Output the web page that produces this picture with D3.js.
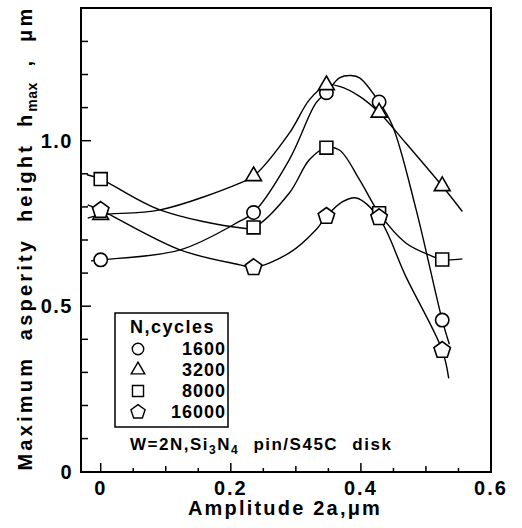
<!DOCTYPE html>
<html>
<head>
<meta charset="utf-8">
<script src="https://cdn.jsdelivr.net/npm/d3@7"></script>
<style>
  body { margin: 0; background: #fff; }
  text { font-family: "Liberation Sans", Arial, sans-serif; font-weight: bold; fill: #000; }
</style>
</head>
<body>
<div id="chart"></div>
<script>
// marker positions (amplitude 2a, um)
const amplitude = [0, 0.235, 0.347, 0.428, 0.525];
const cycles = ["1600", "3200", "8000", "16000"];
const symbols = ["circle", "triangle", "square", "pentagon"];

// hmax at each amplitude, per cycle count
const h1600 = [0.64, 0.783, 1.145, 1.117, 0.458];
const h3200 = [0.776, 0.893, 1.168, 1.085, 0.863];
const h8000 = [0.884, 0.738, 0.979, 0.781, 0.641];
const h16000 = [0.79, 0.617, 0.772, 0.768, 0.367];

// fitted curves as [x, y]
const fit1600 = [[-0.015, 0.637], [0, 0.64], [0.122, 0.67], [0.213, 0.756], [0.235, 0.783], [0.29, 0.943],
  [0.331, 1.114], [0.347, 1.145], [0.367, 1.19], [0.385, 1.197], [0.398, 1.19], [0.428, 1.117],
  [0.449, 1.043], [0.485, 0.791], [0.525, 0.458], [0.536, 0.385]];
const fit3200 = [[-0.02, 0.766], [0, 0.776], [0.091, 0.791], [0.214, 0.872], [0.235, 0.893], [0.29, 1.023],
  [0.321, 1.124], [0.347, 1.168], [0.367, 1.164], [0.398, 1.134], [0.428, 1.085], [0.469, 0.993],
  [0.525, 0.863], [0.556, 0.786]];
const fit8000 = [[-0.021, 0.897], [0, 0.884], [0.091, 0.791], [0.214, 0.737], [0.235, 0.738], [0.29, 0.842],
  [0.321, 0.943], [0.347, 0.979], [0.367, 0.972], [0.398, 0.882], [0.428, 0.781], [0.469, 0.691],
  [0.505, 0.655], [0.525, 0.641], [0.556, 0.643]];
const fit16000 = [[-0.02, 0.806], [0, 0.79], [0.122, 0.67], [0.214, 0.625], [0.235, 0.617], [0.29, 0.661],
  [0.331, 0.731], [0.347, 0.772], [0.372, 0.816], [0.393, 0.827], [0.428, 0.766], [0.469, 0.59],
  [0.525, 0.367], [0.535, 0.282]];

const yTicks = [0, 0.1, 0.2, 0.3, 0.4, 0.5, 0.6, 0.7, 0.8, 0.9, 1.0, 1.1, 1.2, 1.3];
const yLabels = [0, 0.5, 1.0];
const xTicks = [0, 0.05, 0.1, 0.15, 0.2, 0.25, 0.3, 0.35, 0.4, 0.45, 0.5, 0.55];
const xLabels = [0, 0.2, 0.4, 0.6];

const series = [
  { name: cycles[0], sym: symbols[0], h: h1600, fit: fit1600 },
  { name: cycles[1], sym: symbols[1], h: h3200, fit: fit3200 },
  { name: cycles[2], sym: symbols[2], h: h8000, fit: fit8000 },
  { name: cycles[3], sym: symbols[3], h: h16000, fit: fit16000 }
];

const W = 522, H = 528;
const frame = { left: 81, right: 491, top: 8, bottom: 472 };

const svg = d3.select("#chart").append("svg")
  .attr("width", W).attr("height", H);

const x = d3.scaleLinear().domain([0, 0.6]).range([100.7, 491]);
const y = d3.scaleLinear().domain([0, 1]).range([471.7, 140.7]);

// frame
svg.append("rect")
  .attr("x", frame.left).attr("y", frame.top)
  .attr("width", frame.right - frame.left).attr("height", frame.bottom - frame.top)
  .attr("fill", "none").attr("stroke", "#000").attr("stroke-width", 2);

// left ticks (inward)
svg.append("g").selectAll("line").data(yTicks).enter().append("line")
  .attr("x1", frame.left)
  .attr("x2", d => frame.left + (Math.abs(d * 10 % 5) < 0.01 ? 10 : 7))
  .attr("y1", d => y(d)).attr("y2", d => y(d))
  .attr("stroke", "#000").attr("stroke-width", 1.5);

// bottom ticks (inward)
svg.append("g").selectAll("line").data(xTicks).enter().append("line")
  .attr("x1", d => x(d)).attr("x2", d => x(d))
  .attr("y1", frame.bottom)
  .attr("y2", d => {
    const k = Math.round(d * 100);
    return frame.bottom - (k % 20 === 0 ? 9 : k % 10 === 0 ? 6 : 4);
  })
  .attr("stroke", "#000").attr("stroke-width", 1.5);

// tick labels
svg.append("g").selectAll("text").data(yLabels).enter().append("text")
  .attr("x", 73).attr("y", d => y(d) + 7)
  .attr("text-anchor", "end")
  .style("font-size", "20px").style("letter-spacing", "1.5px")
  .text(d => d === 0 ? "0" : d.toFixed(1));

svg.append("g").selectAll("text").data(xLabels).enter().append("text")
  .attr("x", d => x(d)).attr("y", 495)
  .attr("text-anchor", "middle")
  .style("font-size", "20px").style("letter-spacing", "2px")
  .text(d => d === 0 ? "0" : d.toFixed(1));

// axis titles
svg.append("text")
  .attr("x", 285).attr("y", 515)
  .attr("text-anchor", "middle")
  .style("font-size", "20px").style("letter-spacing", "2.2px")
  .text("Amplitude  2a,\u03bcm");

const yt = svg.append("text")
  .attr("transform", "translate(32,238) rotate(-90)")
  .attr("text-anchor", "middle")
  .style("font-size", "20px").style("letter-spacing", "3.2px")
  .style("word-spacing", "7px");
yt.append("tspan").text("Maximum asperity height h");
yt.append("tspan").attr("dy", 5).style("font-size", "14px").style("letter-spacing", "0.5px").text("max");
yt.append("tspan").attr("dy", -5).text(" , \u03bcm");

// curves
const line = d3.line()
  .x(d => x(d[0])).y(d => y(d[1]))
  .curve(d3.curveCatmullRom.alpha(0.5));

svg.append("g").selectAll("path").data(series).enter().append("path")
  .attr("d", d => line(d.fit))
  .attr("fill", "none").attr("stroke", "#000").attr("stroke-width", 1.4);

// markers
const symType = {
  circle: d3.symbolCircle, triangle: d3.symbolTriangle,
  square: d3.symbolSquare, pentagon: null
};
function pentagonPath(r) {
  const pts = d3.range(5).map(i => {
    const a = -Math.PI / 2 + i * 2 * Math.PI / 5;
    return [r * Math.cos(a), r * Math.sin(a)];
  });
  return "M" + pts.join("L") + "Z";
}
function markerPath(sym, s) {
  if (sym === "pentagon") return pentagonPath(s * 0.62);
  const sizes = { circle: s * s * 0.72, triangle: s * s * 0.55, square: s * s * 0.85 };
  return d3.symbol().type(symType[sym]).size(sizes[sym])();
}

series.forEach(s => {
  svg.append("g").selectAll("path").data(s.h).enter().append("path")
    .attr("transform", (v, i) => `translate(${x(amplitude[i])},${y(v)})`)
    .attr("d", markerPath(s.sym, 14))
    .attr("fill", "#fff").attr("stroke", "#000").attr("stroke-width", 1.6);
});

// legend
const lg = svg.append("g");
lg.append("rect")
  .attr("x", 115).attr("y", 313).attr("width", 113).attr("height", 114)
  .attr("fill", "#fff").attr("stroke", "#000").attr("stroke-width", 1.5);
lg.append("text")
  .attr("x", 130).attr("y", 333)
  .style("font-size", "18px").style("letter-spacing", "1.5px")
  .text("N,cycles");
series.forEach((s, i) => {
  const yy = 349 + i * 21;
  lg.append("path")
    .attr("transform", `translate(138,${yy})`)
    .attr("d", markerPath(s.sym, 12))
    .attr("fill", "#fff").attr("stroke", "#000").attr("stroke-width", 1.4);
  lg.append("text")
    .attr("x", 226).attr("y", yy + 6)
    .attr("text-anchor", "end")
    .style("font-size", "18px").style("letter-spacing", "1px")
    .text(s.name);
});

// condition note
const note = svg.append("text")
  .attr("x", 130).attr("y", 450)
  .style("font-size", "17px").style("letter-spacing", "1.5px")
  .style("word-spacing", "8px");
note.append("tspan").text("W=2N,Si");
note.append("tspan").attr("dy", 4).style("font-size", "12px").text("3");
note.append("tspan").attr("dy", -4).text("N");
note.append("tspan").attr("dy", 4).style("font-size", "12px").text("4");
note.append("tspan").attr("dy", -4).text(" pin/S45C disk");
</script>
</body>
</html>
